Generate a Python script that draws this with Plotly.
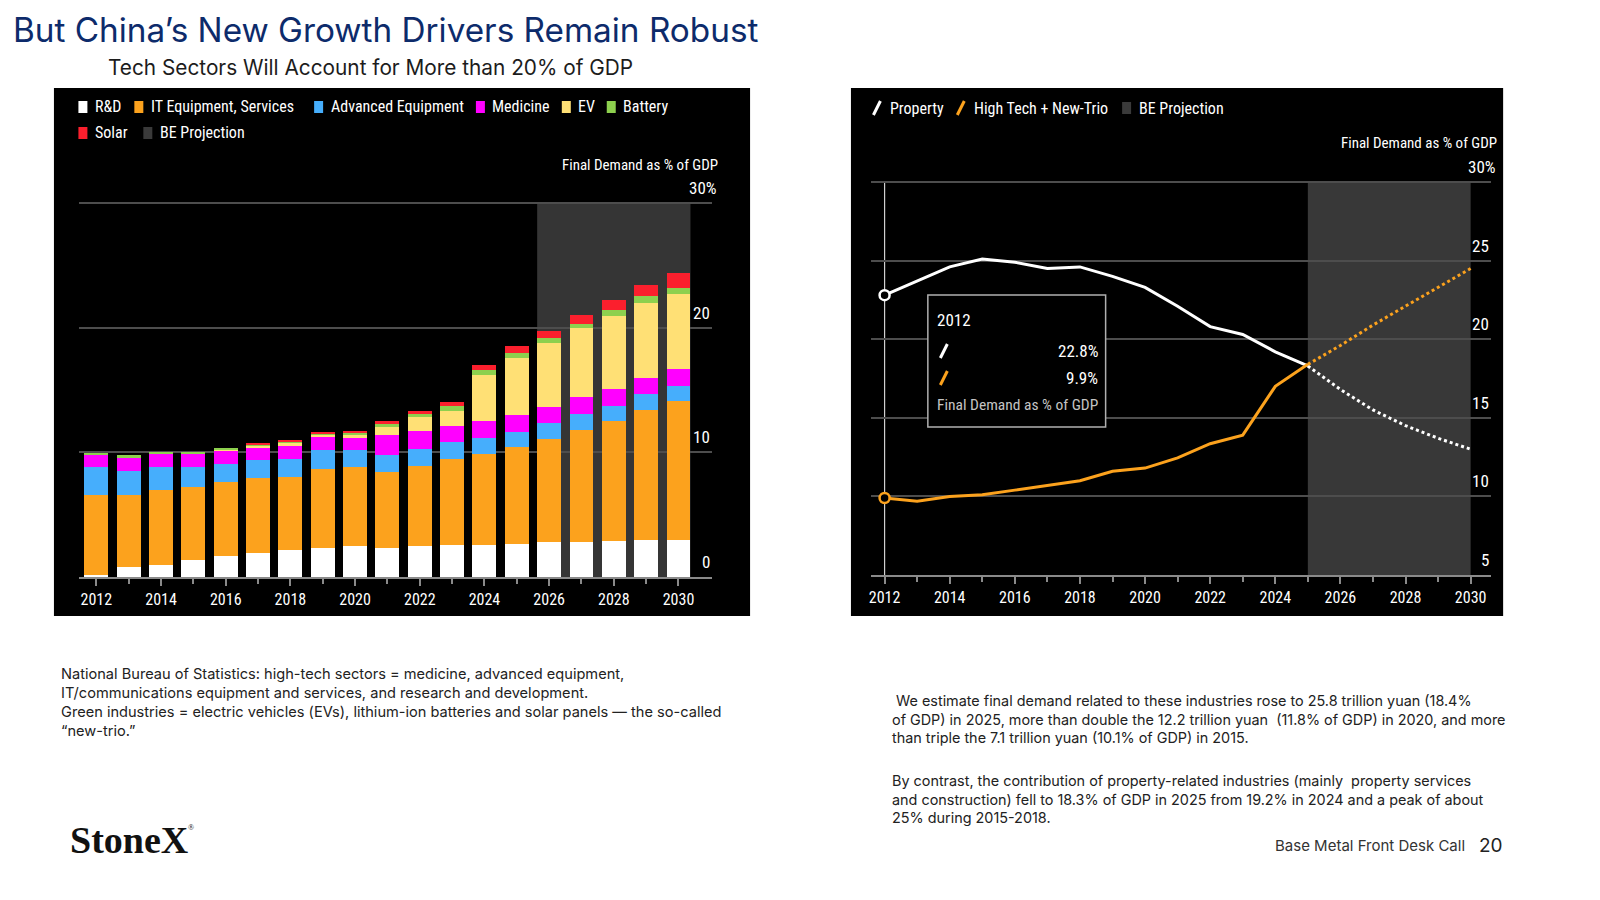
import plotly.graph_objects as go

W, H = 1600, 900
OFF = 8  # the page body margin shifts the figure, so layout positions are given in page pixels

# ---- left chart: final demand by sector, % of GDP (stacked) ----
YEARS = list(range(2012, 2031))
RND = [0.2, 0.8, 1.0, 1.35, 1.65, 1.95, 2.15, 2.3, 2.45, 2.35, 2.5, 2.6, 2.6, 2.65, 2.8, 2.8, 2.9, 3.0, 3.0]
IT_EQUIP = [6.4, 5.8, 6.0, 5.85, 5.95, 6.0, 5.85, 6.4, 6.4, 6.05, 6.4, 6.9, 7.3, 7.75, 8.25, 9.0, 9.6, 10.4, 11.15]
ADV_EQUIP = [2.2, 1.9, 1.8, 1.6, 1.5, 1.4, 1.5, 1.5, 1.3, 1.4, 1.35, 1.35, 1.25, 1.25, 1.3, 1.3, 1.25, 1.3, 1.2]
MEDICINE = [1.1, 1.15, 1.13, 1.13, 1.05, 1.05, 1.0, 1.0, 1.1, 1.6, 1.5, 1.3, 1.35, 1.35, 1.3, 1.35, 1.35, 1.3, 1.3]
EV = [0, 0, 0, 0, 0.08, 0.15, 0.3, 0.27, 0.1, 0.6, 1.05, 1.2, 3.7, 4.55, 5.15, 5.5, 5.85, 6.0, 6.05]
BATTERY = [0.08, 0.1, 0.08, 0.08, 0.1, 0.08, 0.1, 0.1, 0.2, 0.3, 0.3, 0.35, 0.4, 0.4, 0.35, 0.37, 0.5, 0.5, 0.5]
SOLAR = [0, 0, 0, 0, 0, 0.1, 0.1, 0.1, 0.2, 0.2, 0.2, 0.35, 0.42, 0.55, 0.6, 0.7, 0.8, 0.9, 1.15]

SECTOR_NAMES = ["R&D", "IT Equipment, Services", "Advanced Equipment", "Medicine", "EV", "Battery", "Solar"]
SECTOR_COLORS = ["#ffffff", "#fca21d", "#46aefc", "#ff00ff", "#ffe075", "#8dd04e", "#fb1f2d"]

# ---- right chart: property vs high tech + new-trio, % of GDP ----
LINE_YEARS = list(range(2012, 2026))
PROPERTY = [22.8, 23.7, 24.6, 25.1, 24.9, 24.5, 24.6, 24.0, 23.3, 22.1, 20.8, 20.3, 19.2, 18.3]
HIGH_TECH = [9.9, 9.7, 10.0, 10.1, 10.4, 10.7, 11.0, 11.6, 11.8, 12.45, 13.35, 13.9, 17.0, 18.4]
PROJ_YEARS = list(range(2025, 2031))
PROPERTY_PROJ = [18.3, 16.8, 15.5, 14.5, 13.7, 13.0]
HIGH_TECH_PROJ = [18.4, 19.6, 20.9, 22.1, 23.3, 24.5]

LEFT_Y_TICKS = [0, 10, 20, 30]
RIGHT_Y_TICKS = [5, 10, 15, 20, 25, 30]

CHART_FONT = "Liberation Sans Narrow, Arial Narrow, Roboto Condensed, DejaVu Sans Condensed, sans-serif"
SLIDE_FONT = "Inter, Roboto, Open Sans, sans-serif"
GRID = "#4d4d4d"
SHADE = "#353535"
ORANGE = "#fca21d"
LABEL_SIZE = 16


def px(x):
    return (x - OFF) / W


def py(y):
    return 1 - (y - OFF) / H


fig = go.Figure()

# stacked bars
for name, vals, color in zip(SECTOR_NAMES, [RND, IT_EQUIP, ADV_EQUIP, MEDICINE, EV, BATTERY, SOLAR], SECTOR_COLORS):
    fig.add_trace(go.Bar(x=YEARS, y=vals, name=name, marker=dict(color=color, line=dict(width=0)),
                         width=0.74, showlegend=False, xaxis="x", yaxis="y"))

# lines
fig.add_trace(go.Scatter(x=LINE_YEARS, y=PROPERTY, mode="lines", line=dict(color="white", width=3),
                         showlegend=False, xaxis="x2", yaxis="y2"))
fig.add_trace(go.Scatter(x=LINE_YEARS, y=HIGH_TECH, mode="lines", line=dict(color=ORANGE, width=3),
                         showlegend=False, xaxis="x2", yaxis="y2"))
fig.add_trace(go.Scatter(x=PROJ_YEARS, y=PROPERTY_PROJ, mode="lines", line=dict(color="white", width=3, dash="dot"),
                         showlegend=False, xaxis="x2", yaxis="y2"))
fig.add_trace(go.Scatter(x=PROJ_YEARS, y=HIGH_TECH_PROJ, mode="lines", line=dict(color=ORANGE, width=3, dash="dot"),
                         showlegend=False, xaxis="x2", yaxis="y2"))
# hover markers on first year
fig.add_trace(go.Scatter(x=[LINE_YEARS[0], LINE_YEARS[0]], y=[PROPERTY[0], HIGH_TECH[0]], mode="markers",
                         marker=dict(size=10, color="black", line=dict(color=["white", ORANGE], width=2.5)),
                         showlegend=False, xaxis="x2", yaxis="y2"))

shapes = [
    # black chart panels
    dict(type="rect", xref="paper", yref="paper", x0=px(52), x1=px(749), y0=py(616), y1=py(88),
         fillcolor="black", line=dict(width=0), layer="below"),
    dict(type="rect", xref="paper", yref="paper", x0=px(850), x1=px(1503), y0=py(616), y1=py(88),
         fillcolor="black", line=dict(width=0), layer="below"),
    # projection shading
    dict(type="rect", xref="x", yref="y", x0=2026 - 0.37, x1=YEARS[-1] + 0.37, y0=0, y1=30,
         fillcolor=SHADE, line=dict(width=0), layer="below"),
    dict(type="rect", xref="x2", yref="y2", x0=PROJ_YEARS[0], x1=PROJ_YEARS[-1], y0=5, y1=30,
         fillcolor="#383838", line=dict(width=0), layer="below"),
    # crosshair on 2012
    dict(type="line", xref="x2", yref="y2", x0=LINE_YEARS[0], x1=LINE_YEARS[0], y0=5, y1=30,
         line=dict(color="#d0d0d0", width=1.2), layer="below"),
    # tooltip box
    dict(type="rect", xref="paper", yref="paper", x0=px(927), x1=px(1105), y0=py(427), y1=py(295),
         fillcolor="black", line=dict(color="#b0b0b0", width=1.5), layer="above"),
]

annotations = []


def label(x, y, text, size=LABEL_SIZE, color="white", xanchor="left", family=CHART_FONT, yanchor="middle"):
    annotations.append(dict(x=px(x), y=py(y), xref="paper", yref="paper", text=text, showarrow=False,
                            xanchor=xanchor, yanchor=yanchor, align=xanchor,
                            font=dict(family=family, size=size, color=color)))


def ytick(x_edge, yref, value, text):
    annotations.append(dict(x=px(x_edge), y=value, xref="paper", yref=yref, text=text, showarrow=False,
                            xanchor="right", yanchor="bottom", yshift=3,
                            font=dict(family=CHART_FONT, size=LABEL_SIZE + 1, color="white")))


def square(cx, cy, color):
    shapes.append(dict(type="rect", xref="paper", yref="paper", x0=px(cx - 4.5), x1=px(cx + 4.5),
                       y0=py(cy + 6), y1=py(cy - 6), fillcolor=color, line=dict(width=0), layer="above"))


def slash(cx, cy, color):
    shapes.append(dict(type="line", xref="paper", yref="paper", x0=px(cx - 3.5), x1=px(cx + 3.5),
                       y0=py(cy + 7), y1=py(cy - 7), line=dict(color=color, width=3), layer="above"))


# left legend
left_legend_pos = [(81, 107), (137, 107), (317, 107), (479, 107), (565, 107), (610, 107), (81, 133)]
for (cx, cy), name, color in zip(left_legend_pos, SECTOR_NAMES, SECTOR_COLORS):
    square(cx, cy, color)
    label(cx + 10, cy, name)
square(146, 133, "#3a3a3a")
label(156, 133, "BE Projection")

# right legend
slash(876, 108, "white")
label(887, 108, "Property")
slash(960, 108, ORANGE)
label(971, 108, "High Tech + New-Trio")
square(1126, 108, "#3a3a3a")
label(1136, 108, "BE Projection")

# y tick labels, sitting on their gridlines at the right edge
for v in LEFT_Y_TICKS[:-1]:
    ytick(711, "y", v, str(v))
ytick(718, "y", LEFT_Y_TICKS[-1], f"{LEFT_Y_TICKS[-1]}%")
for v in RIGHT_Y_TICKS[:-1]:
    ytick(1491, "y2", v, str(v))
ytick(1498, "y2", RIGHT_Y_TICKS[-1], f"{RIGHT_Y_TICKS[-1]}%")

# axis titles
label(719, 165, "Final Demand as % of GDP", size=15, xanchor="right")
label(1499, 143, "Final Demand as % of GDP", size=15, xanchor="right")

# tooltip contents
label(934, 320, str(LINE_YEARS[0]), size=17)
slash(943, 351, "white")
slash(943, 378, ORANGE)
label(1099, 351, f"{PROPERTY[0]:.1f}%", size=17, xanchor="right")
label(1099, 378, f"{HIGH_TECH[0]:.1f}%", size=17, xanchor="right")
label(934, 405, "Final Demand as % of GDP", size=15.5, color="#c4c4c4")

# slide texts
label(9, OFF, "But China’s New Growth Drivers Remain Robust", size=33.3, color="#0d2b6b", family=SLIDE_FONT,
      yanchor="top")
label(104, 68, "Tech Sectors Will Account for More than 20% of GDP", size=20.8, color="#1c1c1c", family=SLIDE_FONT)
label(57, 663, "National Bureau of Statistics: high-tech sectors = medicine, advanced equipment,<br>"
               "IT/communications equipment and services, and research and development.<br>"
               "Green industries = electric vehicles (EVs), lithium-ion batteries and solar panels — the so-called<br>"
               "“new-trio.”", size=14.6, color="#222222", family=SLIDE_FONT, yanchor="top")
label(889, 690, " We estimate final demand related to these industries rose to 25.8 trillion yuan (18.4%<br>"
                "of GDP) in 2025, more than double the 12.2 trillion yuan  (11.8% of GDP) in 2020, and more<br>"
                "than triple the 7.1 trillion yuan (10.1% of GDP) in 2015.",
      size=14.4, color="#222222", family=SLIDE_FONT, yanchor="top")
label(889, 770, "By contrast, the contribution of property-related industries (mainly  property services<br>"
                "and construction) fell to 18.3% of GDP in 2025 from 19.2% in 2024 and a peak of about<br>"
                "25% during 2015-2018.",
      size=14.4, color="#222222", family=SLIDE_FONT, yanchor="top")
label(66, 840, "<b>StoneX</b>", size=38, color="#111111", family="Liberation Serif, DejaVu Serif, serif")
label(184, 827, "®", size=8, color="#111111", family="Liberation Serif, DejaVu Serif, serif")
label(1467, 845, "Base Metal Front Desk Call", size=15, color="#333333", family=SLIDE_FONT, xanchor="right")
label(1505, 845, "20", size=19, color="#222222", family=SLIDE_FONT, xanchor="right")

tickfont = dict(family=CHART_FONT, size=LABEL_SIZE, color="white")
xcommon = dict(ticks="outside", ticklen=7, tickwidth=1.5, tickcolor="#8a8a8a", showgrid=False, showline=True,
               linecolor="#8a8a8a", linewidth=1.5, tickfont=tickfont, zeroline=False,
               tickmode="array", tickvals=YEARS[::2],
               minor=dict(tickmode="array", tickvals=YEARS, ticks="outside", ticklen=5, tickcolor="#8a8a8a"))
ycommon = dict(side="right", showgrid=True, gridcolor=GRID, gridwidth=1.5, showticklabels=False,
               zeroline=False, ticks="", tickmode="array", showline=False)

fig.update_layout(
    width=W, height=H,
    margin=dict(l=0, r=0, t=0, b=0),
    paper_bgcolor="white",
    plot_bgcolor="black",
    barmode="stack",
    showlegend=False,
    xaxis=dict(domain=[px(77), px(711)], range=[2011.46, 2031.04], anchor="y", **xcommon),
    yaxis=dict(domain=[py(577), py(190.5)], range=[0, 31], anchor="x", tickvals=LEFT_Y_TICKS, **ycommon),
    xaxis2=dict(domain=[px(870), px(1491)], range=[2011.58, 2030.63], anchor="y2", **xcommon),
    yaxis2=dict(domain=[py(575), py(166.3)], range=[5, 31], anchor="x2", tickvals=RIGHT_Y_TICKS, **ycommon),
    shapes=shapes,
    annotations=annotations,
)

fig.write_html("out.html")
